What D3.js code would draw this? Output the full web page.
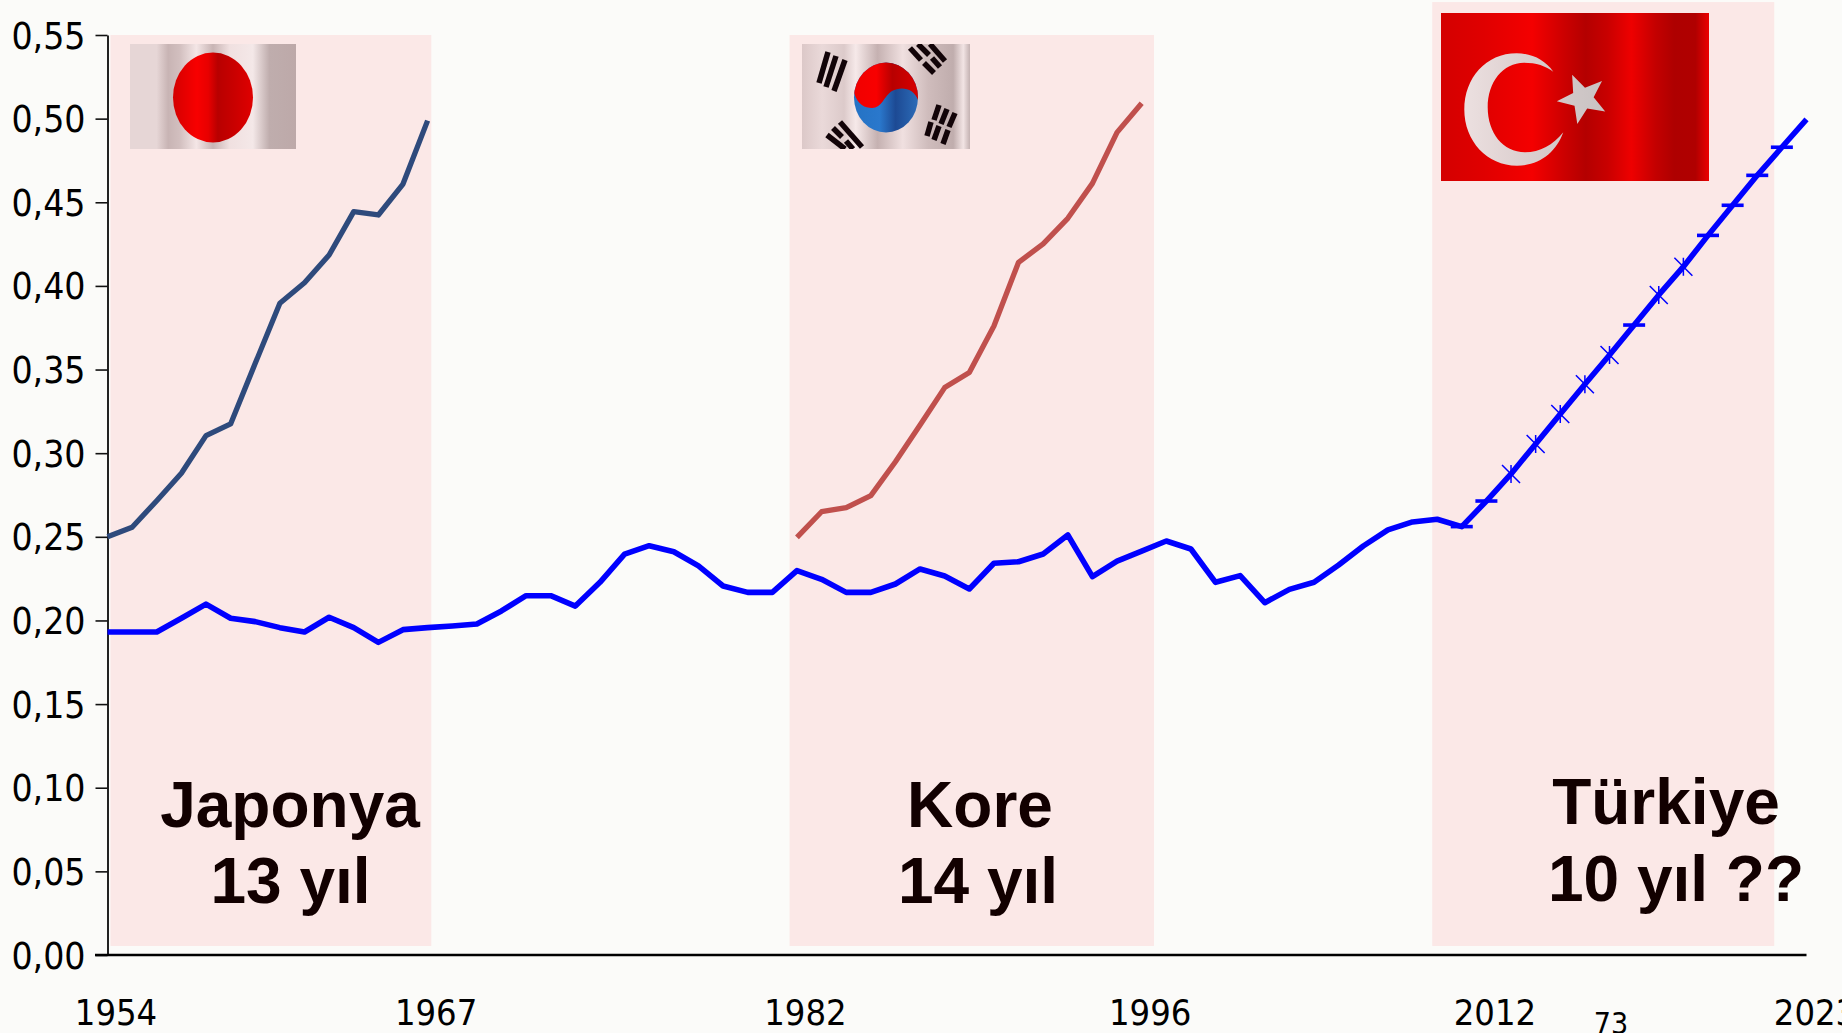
<!DOCTYPE html>
<html>
<head>
<meta charset="utf-8">
<title>Japonya Kore Türkiye</title>
<script src="https://cdn.jsdelivr.net/npm/d3@7"></script>
<style>
	html,body{margin:0;padding:0;background:#fbfbf9;overflow:hidden;}
	svg{display:block;}
	.axis text{font-family:"DejaVu Sans Condensed","DejaVu Sans",sans-serif;font-size:36px;fill:#000;}
	.y.axis text{font-size:37px;}
	.lbl{font-family:"Liberation Sans",Arial,sans-serif;font-weight:bold;font-size:64px;fill:#120000;text-anchor:middle;}
</style>
</head>
<body>
<script>
var WIDTH = 1842, HEIGHT = 1033;

// one value per point, first point is 1954
var turkeyValues = [
	.1931,.1931,.1931,.2013,.2098,.2013,.1993,.1957,.1931,.2019,
	.1957,.1869,.1945,.1957,.1967,.1979,.2057,.2148,.2148,.2086,
	.2228,.2397,.2447,.2411,.2326,.2206,.2168,.2168,.2298,.2246,
	.2168,.2168,.2218,.2308,.2266,.2188,.2342,.2351,.2397,.2511,
	.2262,.2355,.2415,.2475,.2427,.2228,.2268,.2106,.2186,.2228,
	.2332,.2445,.2541,.2589,.2605,.2561,.2714,.2876,.3055,.3234,
	.3412,.3587,.3766,.3946,.4115,.4302,.4482,.4661,.4829,.4996
];
var japanValues = [.2501,.2557,.2716,.2880,.3105,.3175,.3537,.3896,.4019,.4185,.4444,.4424,.4609,.4988];
var koreaValues = [.2497,.2650,.2674,.2746,.2949,.3168,.3392,.3483,.3760,.4141,.4251,.4404,.4613,.4918,.5092];
var japanStart = 0, koreaStart = 28;

// markers on the last stretch of the turkey line
var markerStart = 55;
var markerTypes = ["dash","dash","star","star","star","star","star","dash","star","star","dash","dash","dash","dash"];

var yTicks = [0,.05,.10,.15,.20,.25,.30,.35,.40,.45,.50,.55];
var xTickLabels = ["1954","1967","1982","1996","2012","2023"];
var xTickPoints = [0,13,28,42,56,69];

var bands = [[0.12,13.15,.5500,.0054],[27.7,42.5,.5500,.0054],[53.8,67.69,.5697,.0054]];

var svg = d3.select("body").append("svg").attr("width",WIDTH).attr("height",HEIGHT);
var defs = svg.append("defs");

var _x = d3.scaleLinear().domain([0,69]).range([107.5,1806.5]);
var _y = d3.scaleLinear().domain([0,.55]).range([955,35]);

var addGradient = function(id,x1,x2,stops){
	var g = defs.append("linearGradient").attr("id",id)
		.attr("gradientUnits","userSpaceOnUse")
		.attr("x1",x1).attr("x2",x2).attr("y1",0).attr("y2",0);
	stops.forEach(function(s){
		g.append("stop").attr("offset",s[0]).attr("stop-color",s[1]);
	});
};

// bands
svg.append("g").selectAll("rect").data(bands).enter().append("rect")
	.attr("x",function(d){return _x(d[0])})
	.attr("width",function(d){return _x(d[1])-_x(d[0])})
	.attr("y",function(d){return _y(d[2])})
	.attr("height",function(d){return _y(d[3])-_y(d[2])})
	.attr("fill","#fbe8e7");

var silk = [[0,"#e6d6d6"],[.16,"#e6d6d6"],[.23,"#c8b4b4"],[.3,"#d2bfbf"],[.4,"#f4e6e6"],[.5,"#c8b4b4"],[.6,"#f0e0e0"],[.74,"#f4e8e8"],[.84,"#bfadad"],[1,"#bda9a9"]];

// japan flag
var drawJapan = function(){
	addGradient("jpBack",130,296,silk);
	addGradient("jpSun",173,253,[[0,"#d40000"],[.3,"#f80000"],[.44,"#e80000"],[.56,"#b80000"],[.75,"#c80000"],[1,"#e00000"]]);
	var g = svg.append("g");
	g.append("rect").attr("x",130).attr("y",44).attr("width",166).attr("height",105).attr("fill","url(#jpBack)");
	g.append("ellipse").attr("cx",213).attr("cy",97.5).attr("rx",40).attr("ry",45).attr("fill","url(#jpSun)");
};

// korea flag
var drawKorea = function(){
	addGradient("krBack",802,970,[[0,"#dcc8c8"],[.12,"#ead9d9"],[.25,"#dccaca"],[.32,"#f6e9e9"],[.45,"#c5b1b1"],[.6,"#f0e0e0"],[.75,"#cfbcbc"],[.9,"#c0adad"],[.96,"#f2e4e4"],[1,"#c4b2b2"]]);
	addGradient("krRed",854,918,[[0,"#f00000"],[.35,"#f80000"],[.6,"#b80000"],[1,"#d80000"]]);
	addGradient("krBlue",854,918,[[0,"#2472c4"],[.4,"#2a78cc"],[.65,"#1d4a94"],[1,"#2c6cb8"]]);
	defs.append("clipPath").attr("id","krClip").append("rect").attr("x",802).attr("y",44).attr("width",168).attr("height",105);
	defs.append("clipPath").attr("id","krSun").append("ellipse").attr("cx",886).attr("cy",97.5).attr("rx",32).attr("ry",35);
	var g = svg.append("g").attr("clip-path","url(#krClip)");
	g.append("rect").attr("x",802).attr("y",44).attr("width",168).attr("height",105).attr("fill","url(#krBack)");
	g.append("ellipse").attr("cx",886).attr("cy",97.5).attr("rx",32).attr("ry",35).attr("fill","url(#krBlue)");
	g.append("path").attr("fill","url(#krRed)").attr("clip-path","url(#krSun)")
		.attr("d","M854,93 C858,105 865,108 872,108 C882,108 884,96 892,91 C901,86 914,88 918,100 L925,100 V50 H845 V93 Z");
	var bars = [
		// upper left
		[828,52,819,83],[836,56,826,87],[845,60,834,91],
		// upper right
		[910,48,921,60],[924,63,934,73],[918,44,929,55],[932,58,940,67],[930,44,945,61],
		// lower right
		[939,105,934,120],[947,109,941,124],[955,113,949,127],[931,122,927,136],[939,126,934,140],[948,130,943,144],
		// lower left
		[827,135,845,149],[833,128,842,137],[846,141,853,149],[840,122,862,147]
	];
	g.selectAll("line.bar").data(bars).enter().append("line")
		.attr("x1",function(d){return d[0]}).attr("y1",function(d){return d[1]})
		.attr("x2",function(d){return d[2]}).attr("y2",function(d){return d[3]})
		.attr("stroke","#120408").attr("stroke-width",5.5);
};

// turkey flag
var drawTurkey = function(){
	addGradient("trBack",1441,1709,[[0,"#d40000"],[.16,"#e00000"],[.34,"#f40000"],[.46,"#cc0000"],[.54,"#b40000"],[.62,"#c80000"],[.71,"#ee0000"],[.8,"#c40000"],[.87,"#ae0000"],[.95,"#b00000"],[1,"#ec0000"]]);
	addGradient("trWhite",1464,1606,[[0,"#ece0e0"],[.4,"#ddd0d0"],[1,"#c8c2c2"]]);
	var g = svg.append("g");
	g.append("rect").attr("x",1441).attr("y",13).attr("width",268).attr("height",168).attr("fill","url(#trBack)");
	g.append("path").attr("fill","url(#trWhite)")
		.attr("d","M1553.3,71.7 C1545,60 1532,53.3 1516.7,53.3 C1486,53.3 1464.3,78 1464.3,109.5 C1464.3,141 1487,165.7 1517,165.7 C1540,165.7 1556,152 1563.3,132.3 C1553,145 1540,152.3 1525,152.3 C1503,152.3 1487.7,133 1487.7,107.3 C1487.7,82 1503,62.7 1524,62.7 C1536,62.7 1546,66 1553.3,71.7 Z");
	var star = d3.range(10).map(function(i){
		var r = i%2 ? 11 : 26, a = (i*36-24)*Math.PI/180;
		return [1582.7+r*Math.sin(a),98.5-r*Math.cos(a)].join(",");
	});
	g.append("polygon").attr("points",star.join(" ")).attr("fill","url(#trWhite)");
};

drawJapan();
drawKorea();
drawTurkey();

// axes
var yAxis = svg.append("g").attr("class","y axis").attr("transform","translate(107.5,0)")
	.call(d3.axisLeft(_y).tickValues(yTicks).tickSize(12).tickSizeOuter(0).tickPadding(10)
		.tickFormat(function(d){return d.toFixed(2).replace(".",",")}));
yAxis.selectAll("text").attr("dy",13);
yAxis.selectAll("line").attr("stroke","#111").attr("stroke-width",1.6);
yAxis.select(".domain").attr("stroke","#222").attr("stroke-width",2);

var xAxis = svg.append("g").attr("class","x axis").attr("transform","translate(0,955)")
	.call(d3.axisBottom(_x).tickValues(xTickPoints).tickSize(0).tickSizeOuter(0).tickPadding(0)
		.tickFormat(function(d,i){return xTickLabels[i]}));
xAxis.selectAll("text").attr("x",8).attr("y",70).attr("dy",0);
xAxis.select(".domain").remove();
svg.append("line").attr("x1",95).attr("x2",_x(69)).attr("y1",_y(0)).attr("y2",_y(0))
	.attr("stroke","#000").attr("stroke-width",2.4);

// lines
var lineFrom = function(start){
	return d3.line()
		.x(function(d,i){return _x(i+start)})
		.y(function(d){return _y(d)});
};
var drawLine = function(values,start,color,w){
	svg.append("path").attr("d",lineFrom(start)(values))
		.attr("fill","none").attr("stroke",color).attr("stroke-width",w)
		.attr("stroke-linejoin","round");
};
drawLine(japanValues,japanStart,"#2e4a7c",5.3);
drawLine(koreaValues,koreaStart,"#c0504d",5.3);
drawLine(turkeyValues,0,"#0000ff",5.6);

// markers
var markers = svg.append("g").selectAll("path").data(markerTypes).enter().append("path")
	.attr("transform",function(d,i){
		return "translate("+_x(i+markerStart)+","+_y(turkeyValues[i+markerStart])+")";
	})
	.attr("d",function(d){
		return d=="dash" ? "M-11,0H11" : "M-9,-9L9,9M-9,9L9,-9M0,-9V9";
	})
	.attr("fill","none").attr("stroke","#0000ff")
	.attr("stroke-width",function(d){return d=="dash" ? 3.6 : 1.5});

// labels
var labels = [["Japonya",290,827],["13 yıl",290.5,903],["Kore",980,827],["14 yıl",978,903],["Türkiye",1666,824],["10 yıl ??",1676,901]];
svg.append("g").selectAll("text").data(labels).enter().append("text")
	.attr("class","lbl")
	.attr("x",function(d){return d[1]}).attr("y",function(d){return d[2]})
	.text(function(d){return d[0]});

svg.append("text").attr("x",1611).attr("y",1034).attr("text-anchor","middle")
	.style("font-family",'"DejaVu Sans Condensed","DejaVu Sans",sans-serif').style("font-size","30px")
	.text("73");
</script>
</body>
</html>
